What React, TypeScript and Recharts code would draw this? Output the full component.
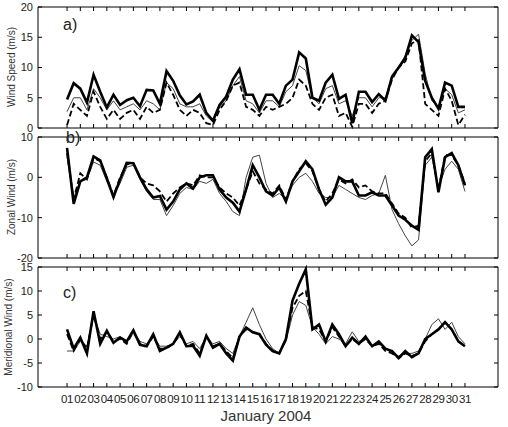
import React from "react";
import { LineChart, Line, XAxis, YAxis } from "recharts";

// days of January 2004 shown on the x axis
const dayTicks = [
  1, 2, 3, 4, 5, 6, 7, 8, 9, 10, 11, 12, 13, 14, 15, 16,
  17, 18, 19, 20, 21, 22, 23, 24, 25, 26, 27, 28, 29, 30, 31,
];
// samples every 12 h
const sampleDays = dayTicks.flatMap((d) => (d < 31 ? [d, d + 0.5] : [d]));

// a) wind speed (m/s)
const speedThick = [
  4.7, 7.4, 6.5, 4.2, 8.8, 6, 3.4, 5.5, 3.8, 4.6,
  5, 3.6, 6.3, 6.2, 4, 9.4, 7.8, 5.4, 3.9, 4.4,
  5.5, 2.5, 1.2, 3.8, 5.2, 8, 9.7, 5.5, 5.5, 3,
  5.5, 5.5, 4, 7, 8, 12.5, 11.5, 5, 4.5, 7.5,
  8.8, 4.8, 5.5, 0.8, 6, 6, 4.3, 5.6, 4.5, 8.5,
  10, 11.6, 15.3, 14.2, 7.8, 5, 3.2, 7.5, 7, 3.5,
  3.5,
];
const speedThin = [
  2.7, 5, 5, 3, 6.5, 5, 3, 4.5, 3, 3.5,
  4, 3, 4.5, 4, 3, 7.5, 6.5, 4, 3.5, 3.5,
  4, 2, 1, 3.5, 4.5, 7, 8.5, 4.5, 4, 2.5,
  4.5, 4.5, 3.5, 6, 7, 10.3, 9.5, 5, 4, 6.5,
  7, 4, 4.5, 2, 5, 5, 3.5, 5, 5, 8.5,
  10, 12, 14.5, 15.5, 9, 4.5, 3.5, 6.5, 5.5, 2.5,
  3,
];
const speedDashed = [
  0.5, 4, 3, 2, 6, 3.5, 1.5, 3, 1.5, 2.5,
  3, 1.5, 3.5, 2.5, 3, 7.5, 5.5, 3, 2, 3,
  2.5, 0.8, 0.5, 3, 4.5, 7, 7.5, 3.5, 3, 2,
  3.5, 3, 3.5, 4, 5, 8, 7, 4, 3, 5,
  5.5, 2, 2.5, 0.2, 4, 4, 2.5, 4, 4.5, 8,
  10, 11, 14, 14.5, 4, 3, 2, 6.5, 4.5, 0.5,
  2.2,
];

// b) zonal wind (m/s)
const zonalThick = [
  7.3, -6.6, -1, 0, 5.2, 4.2, -0.3, -4.9, -0.5, 3.6,
  3.5, 0, -3, -5, -4.6, -8, -6, -3, -1.5, -2.8,
  0, 0.5, 0.5, -3, -5, -6.3, -8.5, -3, 3, 0,
  -3.5, -4.5, -2.5, -6, -1, 1.5, 4, 2, -3, -6.8,
  -5, 0, -1, -1, -4.5, -4.5, -3.7, -4.5, -4.5, -7,
  -9.5, -10.5, -12, -13, 5, 7, -3.7, 5, 6, 3,
  -2,
];
const zonalThin = [
  5, -5, -1, -0.5, 3.8, 3, -1, -4.5, -1.5, 2.5,
  3, -0.5, -3.5, -5.5, -5.5, -9.5, -7, -4, -2.5, -3,
  -1, -1.5, -0.5, -4, -6, -8.5, -9.5, 0, 5, 5.5,
  -1.5, -5, -4, -5.5, -2, 0, 1, -1, -4, -5,
  -5, -2, -3, -4, -5, -5.5, -4.5, -4, 0.5, -8,
  -11.5, -14.5, -17, -15.5, 3, 5, -2.5, 2, 4, 2,
  -3.5,
];
const zonalDashed = [
  6, -5.5, 1, -0.5, 4.8, 4, 0, -4.5, 0, 3.2,
  3.5, 0, -1.5, -2, -3.5, -6, -4, -2.5, -1.5, -2,
  0.5, 0, 0, -2.5, -4, -5, -7, -3, 1.5, -1.5,
  -3, -4, -2, -5.5, -1, 2, 3.5, 1.5, -3, -6,
  -4, -0.5, -1.5, -0.5, -2.5, -2, -3.5, -4, -4, -6.5,
  -9, -10, -12.5, -12, 4, 6, -3, 5.5, 5.5, 3,
  -1.5,
];

// c) meridional wind (m/s)
const meridThick = [
  2, -2, 0.3, -3, 5.8, -1, 1.7, -0.8, 0.3, -0.5,
  1.8, -1.2, -1.5, 1, -2.5, -1.8, -1, 1.4, -1.5, -1.4,
  -3.5, 0.7, -1.8, -1, -3, -4.5, 0.5, 2.4, 1.4, 1,
  -1.2, -2.5, -3, 0, 8, 11.5, 14.5, 2, 3, -0.5,
  3, 1, -1.5, 0.3, -1, 0.5, -1.5, -0.5, -2, -2.5,
  -4, -2.5, -3.8, -3, 0, 1, 2, 3.5, 2, -0.5,
  -1.5,
];
const meridThin = [
  -2.5, -2.5, -0.5, -1.5, 5, 1, 0.5, 0, 0.5, -0.5,
  1.5, -0.5, -1, 0.5, -1.5, -1.5, -1, 0.5, -1, -0.5,
  -2, 0.5, -1, -0.5, -2, -3, 0.5, 3.5, 6.5, 3,
  0, -2, -3, -0.5, 5, 7.8, 7, 2.5, 1, -1,
  0.5, 0, -1, 1.5, -0.5, 0, -1.5, -1, -2, -3,
  -3.5, -3, -3, -2.5, 0, 3, 4.2, 2, 3.5, 0.5,
  -1,
];
const meridDashed = [
  1, -2.5, 0, -2, 5, 0, 1.5, -0.5, 0, -1,
  1.5, -1, -1.5, 0.5, -2, -2, -1, 1, -1.5, -1,
  -3, 0.5, -1.5, -1, -2.5, -4, 0.5, 2, 1.5, 1,
  -1, -2.5, -3, 0, 6.5, 9, 10, 2.5, 2, -0.5,
  2.5, 0.5, -1.5, 0, -1, 0, -1.5, -1, -2.5, -3,
  -4, -3, -3.5, -3, -0.5, 1, 2, 3.5, 2, -0.5,
  -1.5,
];

const W = 508;
const FONT = "'Liberation Sans', Arial, Helvetica, sans-serif";
const X_DOMAIN: [number, number] = [-1.19, 33.49];
const TICK = 4;

const bottomTick = (withLabel: boolean, margin: number) => (p: any) => {
  const ay = p.y - margin;
  return (
    <g>
      <line x1={p.x} x2={p.x} y1={ay} y2={ay - TICK} stroke="#000" />
      {withLabel && (
        <text
          x={p.x}
          y={p.y}
          dy="0.35em"
          textAnchor="middle"
          fontSize={11.5}
          letterSpacing={-0.4}
          fontFamily={FONT}
          fill="#222"
        >
          {String(p.payload.value).padStart(2, "0")}
        </text>
      )}
    </g>
  );
};

const topTick = (p: any) => (
  <line x1={p.x} x2={p.x} y1={p.y} y2={p.y + TICK} stroke="#000" />
);

const leftTick = (p: any) => (
  <g>
    <line x1={p.x + 5} x2={p.x + 5 + TICK} y1={p.y} y2={p.y} stroke="#000" />
    <text x={p.x} y={p.y} dy="0.35em" textAnchor="end" fontSize={11} fontFamily={FONT} fill="#222">
      {p.payload.value}
    </text>
  </g>
);

const rightTick = (p: any) => (
  <line x1={p.x} x2={p.x - TICK} y1={p.y} y2={p.y} stroke="#000" />
);

type PanelProps = {
  top: number;
  height: number;
  thick: number[];
  thin: number[];
  dashed: number[];
  domain: [number, number];
  yTicks: number[];
  showDays?: boolean;
};

function Panel({ top, height, thick, thin, dashed, domain, yTicks, showDays }: PanelProps) {
  const data = sampleDays.map((day, i) => ({
    day,
    thick: thick[i],
    thin: thin[i],
    dashed: dashed[i],
  }));
  const axisLine = { stroke: "#000", strokeWidth: 1 };
  return (
    <div style={{ position: "absolute", left: 0, top }}>
      <LineChart
        width={W}
        height={height}
        data={data}
        margin={{ top: 6, right: 9, left: 0, bottom: showDays ? 0 : 7 }}
        style={{ overflow: "visible" }}
      >
        <XAxis
          dataKey="day"
          type="number"
          domain={X_DOMAIN}
          ticks={dayTicks}
          interval={0}
          height={showDays ? 40 : 1}
          tickSize={0}
          tickMargin={showDays ? 12 : 0}
          tickLine={false}
          axisLine={axisLine}
          tick={bottomTick(!!showDays, showDays ? 12 : 0)}
        />
        <XAxis
          xAxisId="top"
          orientation="top"
          dataKey="day"
          type="number"
          domain={X_DOMAIN}
          ticks={dayTicks}
          interval={0}
          height={1}
          tickSize={0}
          tickMargin={0}
          tickLine={false}
          axisLine={axisLine}
          tick={topTick}
        />
        <YAxis
          type="number"
          domain={domain}
          ticks={yTicks}
          interval={0}
          width={38}
          tickSize={0}
          tickMargin={5}
          tickLine={false}
          axisLine={axisLine}
          tick={leftTick}
        />
        <YAxis
          yAxisId="right"
          orientation="right"
          type="number"
          domain={domain}
          ticks={yTicks}
          interval={0}
          width={1}
          tickSize={0}
          tickMargin={0}
          tickLine={false}
          axisLine={axisLine}
          tick={rightTick}
        />
        {/* invisible copy so the top and right frame axes get drawn */}
        <Line
          xAxisId="top"
          yAxisId="right"
          dataKey="thick"
          stroke="transparent"
          strokeWidth={0}
          dot={false}
          activeDot={false}
          isAnimationActive={false}
        />
        <Line
          dataKey="thin"
          type="linear"
          stroke="#444"
          strokeWidth={1}
          dot={false}
          isAnimationActive={false}
        />
        <Line
          dataKey="dashed"
          type="linear"
          stroke="#000"
          strokeWidth={1.8}
          strokeDasharray="6 3"
          dot={false}
          isAnimationActive={false}
        />
        <Line
          dataKey="thick"
          type="linear"
          stroke="#000"
          strokeWidth={2.6}
          dot={false}
          isAnimationActive={false}
        />
      </LineChart>
    </div>
  );
}

export default function App() {
  return (
    <div
      style={{
        position: "absolute",
        left: 0,
        top: 0,
        width: W,
        height: 427,
        background: "#fff",
        overflow: "hidden",
      }}
    >
      <Panel
        top={0}
        height={136}
        thick={speedThick}
        thin={speedThin}
        dashed={speedDashed}
        domain={[0, 20]}
        yTicks={[0, 5, 10, 15, 20]}
      />
      <Panel
        top={130}
        height={136}
        thick={zonalThick}
        thin={zonalThin}
        dashed={zonalDashed}
        domain={[-20, 10]}
        yTicks={[-20, -10, 0, 10]}
      />
      <Panel
        top={260}
        height={167}
        thick={meridThick}
        thin={meridThin}
        dashed={meridDashed}
        domain={[-10, 15]}
        yTicks={[-10, -5, 0, 5, 10, 15]}
        showDays
      />
      <svg
        width={W}
        height={427}
        style={{ position: "absolute", left: 0, top: 0, pointerEvents: "none" }}
        fontFamily={FONT}
      >
        <text x={63} y={30} fontSize={16} fill="#222">a)</text>
        <text x={66} y={143} fontSize={16} fill="#222">b)</text>
        <text x={63} y={298} fontSize={16} fill="#222">c)</text>
        <text transform="translate(15,67) rotate(-90)" textAnchor="middle" fontSize={10} fill="#333">
          Wind Speed (m/s)
        </text>
        <text transform="translate(15,197) rotate(-90)" textAnchor="middle" fontSize={10} fill="#333">
          Zonal Wind (m/s)
        </text>
        <text transform="translate(12,327) rotate(-90)" textAnchor="middle" fontSize={10} fill="#333">
          Meridional Wind (m/s)
        </text>
        <text x={266} y={421} textAnchor="middle" fontSize={15} fill="#333">
          January 2004
        </text>
      </svg>
    </div>
  );
}
